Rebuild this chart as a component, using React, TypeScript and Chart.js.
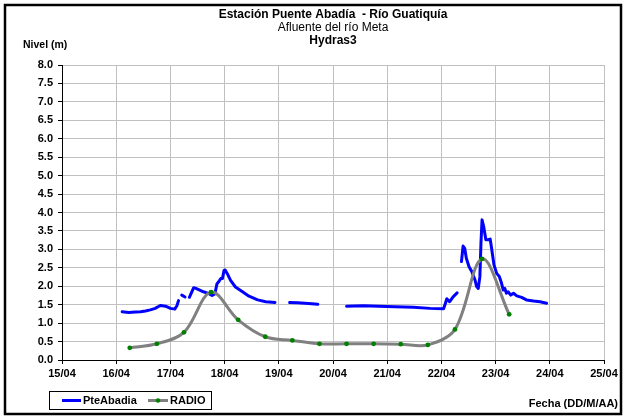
import React, { useEffect, useRef } from "react";
import { Chart, registerables } from "chart.js";

Chart.register(...registerables);

const titleLines = ["Estación Puente Abadía  - Río Guatiquía", "Afluente del río Meta", "Hydras3"];
const yAxisTitle = "Nivel (m)";
const xAxisTitle = "Fecha (DD/M/AA)";
const xTickLabels = ["15/04", "16/04", "17/04", "18/04", "19/04", "20/04", "21/04", "22/04", "23/04", "24/04", "25/04"];
const seriesNames = ["PteAbadia", "RADIO"];

// PteAbadia: time in days (day-of-April, fractional), null level = gap
const pteTime = [
  16.11, 16.23, 16.35, 16.45, 16.54, 16.63, 16.72, 16.78, 16.82, 16.91, 17.0, 17.08, 17.12, 17.15,
  17.18,
  17.21, 17.27,
  17.31,
  17.35, 17.43, 17.46, 17.52, 17.61, 17.71, 17.77, 17.82, 17.86, 17.89, 17.93, 17.96, 17.99, 18.01,
  18.05, 18.11, 18.2, 18.33, 18.45, 18.61, 18.76, 18.93,
  19.05,
  19.2, 19.35, 19.55, 19.72,
  20.0,
  20.25, 20.56, 20.99, 21.48, 21.79, 22.04, 22.07, 22.1, 22.15, 22.22, 22.29,
  22.33,
  22.37, 22.4, 22.43, 22.46, 22.51, 22.56, 22.62, 22.65, 22.68, 22.71, 22.73, 22.75, 22.78, 22.82,
  22.86, 22.9, 22.93, 22.97, 23.02, 23.07, 23.11, 23.14, 23.17, 23.2, 23.23, 23.28, 23.33, 23.39,
  23.48, 23.57, 23.7, 23.82, 23.94,
];
const pteLevel = [
  1.31, 1.29, 1.3, 1.31, 1.33, 1.36, 1.4, 1.45, 1.48, 1.46, 1.4, 1.38, 1.47, 1.61,
  null,
  1.76, 1.71,
  null,
  1.7, 1.96, 1.95, 1.91, 1.85, 1.8, 1.75, 1.79, 2.07, 2.12, 2.21, 2.21, 2.43, 2.44,
  2.34, 2.16, 1.98, 1.85, 1.73, 1.63, 1.58, 1.56,
  null,
  1.56, 1.55, 1.53, 1.51,
  null,
  1.46, 1.47, 1.45, 1.43, 1.4, 1.39, 1.52, 1.66, 1.58, 1.72, 1.82,
  null,
  2.67, 3.09, 3.03, 2.76, 2.53, 2.4, 2.17, 1.99, 1.94, 2.26, 3.17, 3.8, 3.62, 3.26,
  3.26, 3.28, 2.99, 2.58, 2.35, 2.26, 2.08, 1.9, 1.94, 1.81, 1.85, 1.76, 1.81, 1.74,
  1.7, 1.63, 1.6, 1.58, 1.54,
];

// RADIO readings, twice a day
const radioTime = [16.25, 16.75, 17.25, 17.75, 18.25, 18.75, 19.25, 19.75, 20.25, 20.75, 21.25, 21.75, 22.25, 22.75, 23.25];
const radioLevel = [0.33, 0.44, 0.75, 1.84, 1.09, 0.63, 0.53, 0.44, 0.44, 0.44, 0.43, 0.41, 0.83, 2.74, 1.24];

const FONT = "'Liberation Sans', Arial, sans-serif";
const BLUE = "#0000ff";
const GRAY = "#808080";
const GREEN = "#008000";

const decorPlugin = {
  id: "decor",
  beforeDraw(chart: any) {
    const ctx = chart.ctx;
    ctx.save();
    ctx.fillStyle = "#ffffff";
    ctx.fillRect(0, 0, chart.width, chart.height);
    ctx.restore();
  },
  afterDraw(chart: any) {
    const ctx = chart.ctx;
    const area = chart.chartArea;
    const cx = (area.left + area.right) / 2;
    ctx.save();
    // outer frame
    ctx.strokeStyle = "#000";
    ctx.lineWidth = 2.5;
    ctx.strokeRect(5, 5, 616, 409);
    // titles
    ctx.fillStyle = "#000";
    ctx.textAlign = "center";
    ctx.textBaseline = "middle";
    ctx.font = `bold 12px ${FONT}`;
    ctx.fillText(titleLines[0], cx, 15);
    ctx.font = `12px ${FONT}`;
    ctx.fillText(titleLines[1], cx, 28);
    ctx.font = `bold 12px ${FONT}`;
    ctx.fillText(titleLines[2], cx, 41);
    // y axis title
    ctx.textAlign = "left";
    ctx.font = `bold 10.5px ${FONT}`;
    ctx.fillText(yAxisTitle, 23, 45);
    // x axis title
    ctx.textAlign = "right";
    ctx.font = `bold 11px ${FONT}`;
    ctx.fillText(xAxisTitle, 618, 404);
    // legend
    const lx = 49, ly = 391, lw = 162, lh = 18;
    ctx.fillStyle = "#fff";
    ctx.fillRect(lx, ly, lw, lh);
    ctx.strokeStyle = "#000";
    ctx.lineWidth = 1;
    ctx.strokeRect(lx + 0.5, ly + 0.5, lw, lh);
    const my = ly + lh / 2 + 0.5;
    ctx.lineWidth = 3;
    ctx.strokeStyle = BLUE;
    ctx.beginPath();
    ctx.moveTo(62, my);
    ctx.lineTo(81, my);
    ctx.stroke();
    ctx.strokeStyle = GRAY;
    ctx.beginPath();
    ctx.moveTo(148, my);
    ctx.lineTo(168, my);
    ctx.stroke();
    ctx.fillStyle = GREEN;
    ctx.beginPath();
    ctx.arc(158, my, 2.2, 0, Math.PI * 2);
    ctx.fill();
    ctx.fillStyle = "#000";
    ctx.textAlign = "left";
    ctx.font = `bold 11px ${FONT}`;
    ctx.fillText(seriesNames[0], 83, my);
    ctx.fillText(seriesNames[1], 170, my);
    ctx.restore();
  },
};

export default function App() {
  const ref = useRef<HTMLCanvasElement>(null);
  useEffect(() => {
    if (!ref.current) return;
    const chart = new Chart(ref.current, {
      type: "line",
      data: {
        datasets: [
          {
            label: seriesNames[0],
            data: pteTime.map((t, i) => ({ x: t, y: pteLevel[i] })) as any,
            borderColor: BLUE,
            backgroundColor: BLUE,
            borderWidth: 3,
            pointRadius: 0,
            tension: 0,
            spanGaps: false,
            borderJoinStyle: "round",
            borderCapStyle: "round",
            order: 1,
          },
          {
            label: seriesNames[1],
            data: radioTime.map((t, i) => ({ x: t, y: radioLevel[i] })),
            borderColor: GRAY,
            backgroundColor: GREEN,
            borderWidth: 3,
            pointRadius: 2.4,
            pointBorderWidth: 0,
            pointBackgroundColor: GREEN,
            tension: 0.35,
            order: 0,
          },
        ],
      },
      plugins: [decorPlugin],
      options: {
        responsive: false,
        animation: false,
        devicePixelRatio: 1,
        layout: { padding: { left: 22, right: 22, top: 65, bottom: 30 } },
        plugins: { legend: { display: false }, title: { display: false }, tooltip: { enabled: false } },
        scales: {
          x: {
            type: "linear",
            min: 15,
            max: 25,
            afterFit: (s: any) => {
              s.height = 30;
            },
            ticks: {
              stepSize: 1,
              color: "#000",
              font: { family: FONT, size: 11, weight: "bold" },
              padding: 3,
              maxRotation: 0,
              callback: (v: any) => xTickLabels[Math.round(Number(v)) - 15] ?? "",
            },
            grid: { color: "#c0c0c0", lineWidth: 1, tickLength: 4, tickColor: "#000" },
            border: { color: "#000", width: 1 },
          },
          y: {
            min: 0,
            max: 8,
            afterFit: (s: any) => {
              s.width = 40;
            },
            ticks: {
              stepSize: 0.5,
              color: "#000",
              font: { family: FONT, size: 11, weight: "bold" },
              padding: 5,
              callback: (v: any) => Number(v).toFixed(1),
            },
            grid: { color: "#c0c0c0", lineWidth: 1, tickLength: 4, tickColor: "#000" },
            border: { color: "#000", width: 1 },
          },
        },
      },
    });
    return () => chart.destroy();
  }, []);
  return (
    <div style={{ position: "absolute", left: 0, top: 0, width: 626, height: 420 }}>
      <canvas ref={ref} width={626} height={420} style={{ display: "block" }} />
    </div>
  );
}
